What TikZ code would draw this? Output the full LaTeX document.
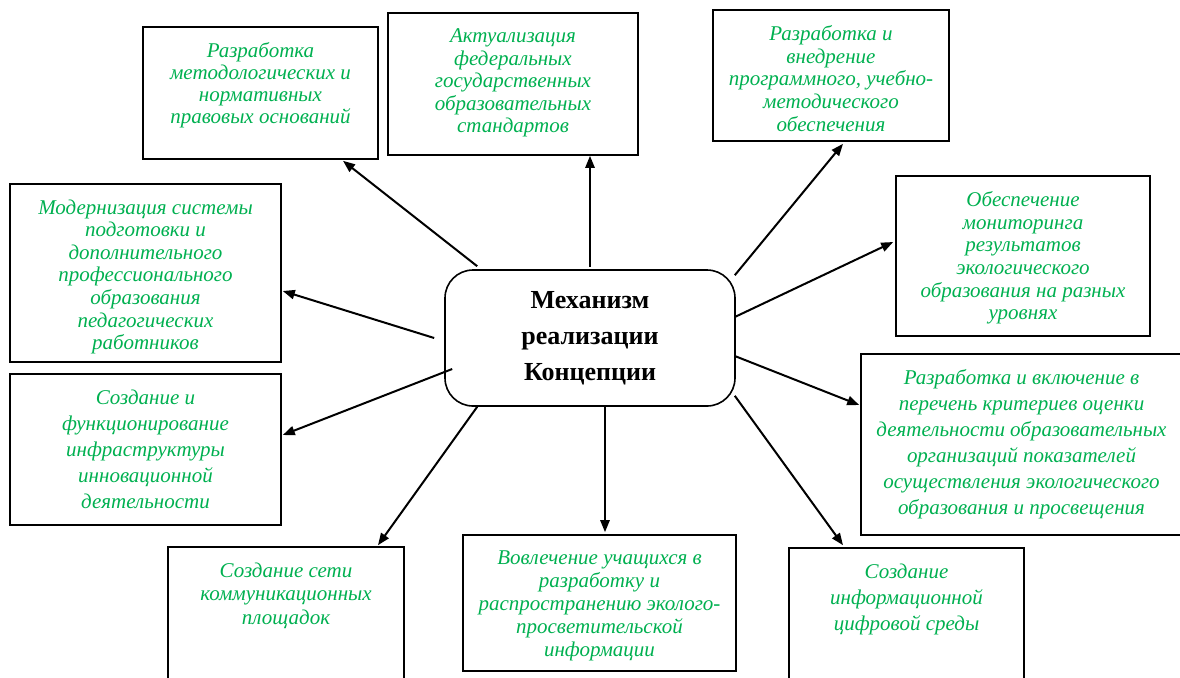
\documentclass[tikz,border=0pt]{standalone}
\usepackage{fontspec}
\setmainfont{Liberation Serif}
\usetikzlibrary{positioning, arrows.meta}
\definecolor{itemgreen}{RGB}{0,176,80}

\begin{document}
\begin{tikzpicture}[x=0.5pt, y=-0.5pt, >={Triangle[length=6pt, width=4.6pt]}]
  \useasboundingbox (0,0) rectangle (1180,677);

  % Set the node styles
  \tikzset{itembox/.style={draw, line width=0.8pt, inner sep=0pt},
           itemtext/.style={text=itemgreen, align=center, inner sep=0pt,
                            font=\fontsize{10.5}{#1}\selectfont\itshape},
           mechbox/.style={draw, line width=0.8pt, rounded corners=14pt, align=center,
                           minimum width=145pt, minimum height=68pt,
                           font=\fontsize{13}{18}\selectfont\bfseries},
           link/.style={->, line width=1pt}}

  % Central node
  \node[mechbox] (mech) at (590,338) {Механизм\\реализации\\Концепции};

  % Draw the surrounding boxes and their texts
  \foreach \n/\x/\y/\w/\h/\lead/\txt in {
    b1/260.5/93/235/132/11/{Разработка\\методологических и\\нормативных\\правовых оснований},
    b2/513/84/250/142/11.3/{Актуализация\\федеральных\\государственных\\образовательных\\стандартов},
    b3/831/75.5/236/131/11.3/{Разработка  и\\внедрение\\программного, учебно-\\методического\\обеспечения},
    b4/1023/256/254/160/11.3/{Обеспечение\\мониторинга\\результатов\\экологического\\образования на разных\\уровнях},
    b5/1021.5/444.5/321/181/13/{Разработка и включение  в\\перечень критериев оценки\\деятельности образовательных\\организаций показателей\\осуществления экологического\\образования и просвещения},
    b6/145.5/273/271/178/11.3/{Модернизация  системы\\подготовки и\\дополнительного\\профессионального\\образования\\педагогических\\работников},
    b7/145.5/449.5/271/151/13/{Создание и\\функционирование\\инфраструктуры\\инновационной\\деятельности},
    b8/286/623.5/236/153/11.8/{Создание сети\\коммуникационных\\площадок},
    b9/599.5/603/273/136/11.5/{Вовлечение  учащихся в\\разработку и\\распространению эколого-\\просветительской\\информации},
    b10/906.5/624/235/152/13/{Создание\\информационной\\цифровой среды}}{
    \node[itembox, minimum width=\w*0.5pt, minimum height=\h*0.5pt] (\n) at (\x,\y) {};
    \node[itemtext=\lead, below=8pt of \n.north] (\n-t) {\txt};
  }

  % Connect the centre with the boxes
  \foreach \from/\fx/\fy/\to/\tx/\ty in {
    mech.north west/33/-3/b1.south/82.5/1,
    mech.north/0/-2/b2.south/77/0,
    mech.north east/-1/6/b3.south/12/2,
    mech.east/-1/-21/b4.west/-2/-14,
    mech.east/-1/18/b5.west/-1/-39.5,
    mech.west/-10/0/b6.east/1/18,
    mech.west/8/31/b7.east/1/-14.5,
    mech.south west/33/0/b8.north/92/-1,
    mech.south/15/0/b9.north/5.5/-2,
    mech.south east/-1/-11/b10.north/-63.5/-2}{
    \draw[link] ([shift={(\fx,\fy)}]\from) -- ([shift={(\tx,\ty)}]\to);
  }
\end{tikzpicture}
\end{document}
